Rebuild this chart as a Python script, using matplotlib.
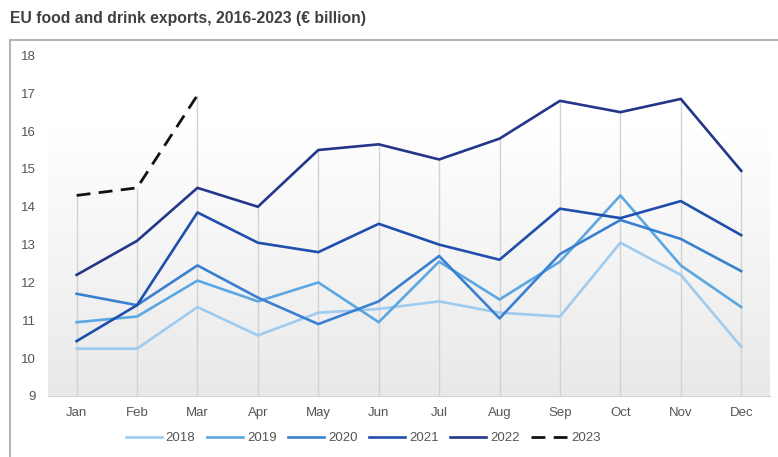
import numpy as np
import matplotlib.pyplot as plt
from matplotlib.patches import Rectangle
from matplotlib.colors import LinearSegmentedColormap

plt.rcParams['font.family'] = ['Liberation Sans', 'DejaVu Sans']

months = ["Jan", "Feb", "Mar", "Apr", "May", "Jun", "Jul", "Aug", "Sep", "Oct", "Nov", "Dec"]

exp_2018 = [10.25, 10.25, 11.35, 10.6, 11.2, 11.3, 11.5, 11.2, 11.1, 13.05, 12.2, 10.3]
exp_2019 = [10.95, 11.1, 12.05, 11.5, 12.0, 10.95, 12.55, 11.55, 12.55, 14.3, 12.45, 11.35]
exp_2020 = [11.7, 11.4, 12.45, 11.6, 10.9, 11.5, 12.7, 11.05, 12.75, 13.65, 13.15, 12.3]
exp_2021 = [10.45, 11.4, 13.85, 13.05, 12.8, 13.55, 13.0, 12.6, 13.95, 13.7, 14.15, 13.25]
exp_2022 = [12.2, 13.1, 14.5, 14.0, 15.5, 15.65, 15.25, 15.8, 16.8, 16.5, 16.85, 14.95]
exp_2023 = [14.3, 14.5, 16.95]

series = [
    ("2018", exp_2018, "#9fcbef", "-"),
    ("2019", exp_2019, "#5ba7e2", "-"),
    ("2020", exp_2020, "#3a80d0", "-"),
    ("2021", exp_2021, "#1f4ead", "-"),
    ("2022", exp_2022, "#233689", "-"),
    ("2023", exp_2023, "#111111", "--"),
]

fig = plt.figure(figsize=(7.78, 4.57), dpi=100)
ax = fig.add_axes([0.062, 0.1335, 0.928, 0.766])

# outer box around the chart
fig.patches.append(Rectangle((10 / 778, -0.01), 1.0, 1 - 40 / 457 + 0.01,
                             transform=fig.transFigure, fill=False,
                             edgecolor="#b5b5b5", linewidth=1.5))

x = np.arange(len(months))
ax.set_xlim(-0.47, 11.48)

# background gradient: white at top to light grey at bottom
grad = np.concatenate([np.ones(60), np.linspace(1.0, 0.0, 196)]).reshape(-1, 1)
ax.imshow(grad, extent=[-0.47, 11.48, 9, 18.25], aspect="auto",
          cmap=LinearSegmentedColormap.from_list("bg", ["#e9e9e9", "#ffffff"]),
          vmin=0, vmax=1, zorder=0, origin="upper")
ax.set_ylim(9, 18.25)

# drop lines from the highest value to the axis
tops = []
for i in range(len(months)):
    vals = [s[1][i] for s in series if i < len(s[1])]
    tops.append(max(vals))
ax.vlines(x, 9, tops, color="#d2d2d2", linewidth=1, zorder=1)

for label, vals, color, ls in series:
    if ls == "--":
        ax.plot(x[:len(vals)], vals, color=color, linestyle=(0, (5, 3)), linewidth=2,
                label=label, zorder=3)
    else:
        ax.plot(x[:len(vals)], vals, color=color, linestyle=ls, linewidth=1.9,
                label=label, zorder=2)

ax.set_xticks(x)
ax.set_xticklabels(months)
ax.set_yticks(range(9, 19))
ax.tick_params(axis="both", length=0, labelsize=9.5, colors="#555555")
ax.tick_params(axis="x", pad=8)
ax.tick_params(axis="y", pad=9)
for side in ["top", "right", "left"]:
    ax.spines[side].set_visible(False)
ax.spines["bottom"].set_color("#d0d0d0")

fig.text(10 / 778, 1 - 18 / 457, "EU food and drink exports, 2016-2023 (\u20ac billion)",
         fontsize=11.3, fontweight="bold", color="#404040", va="center", ha="left")

fig.legend(loc="center", bbox_to_anchor=(0.467, 1 - 438 / 457), ncol=6, frameon=False,
           fontsize=9.5, handlelength=2.7, columnspacing=0.9, handletextpad=0.3,
           labelcolor="#555555")

fig.savefig("out.png", dpi=100)
